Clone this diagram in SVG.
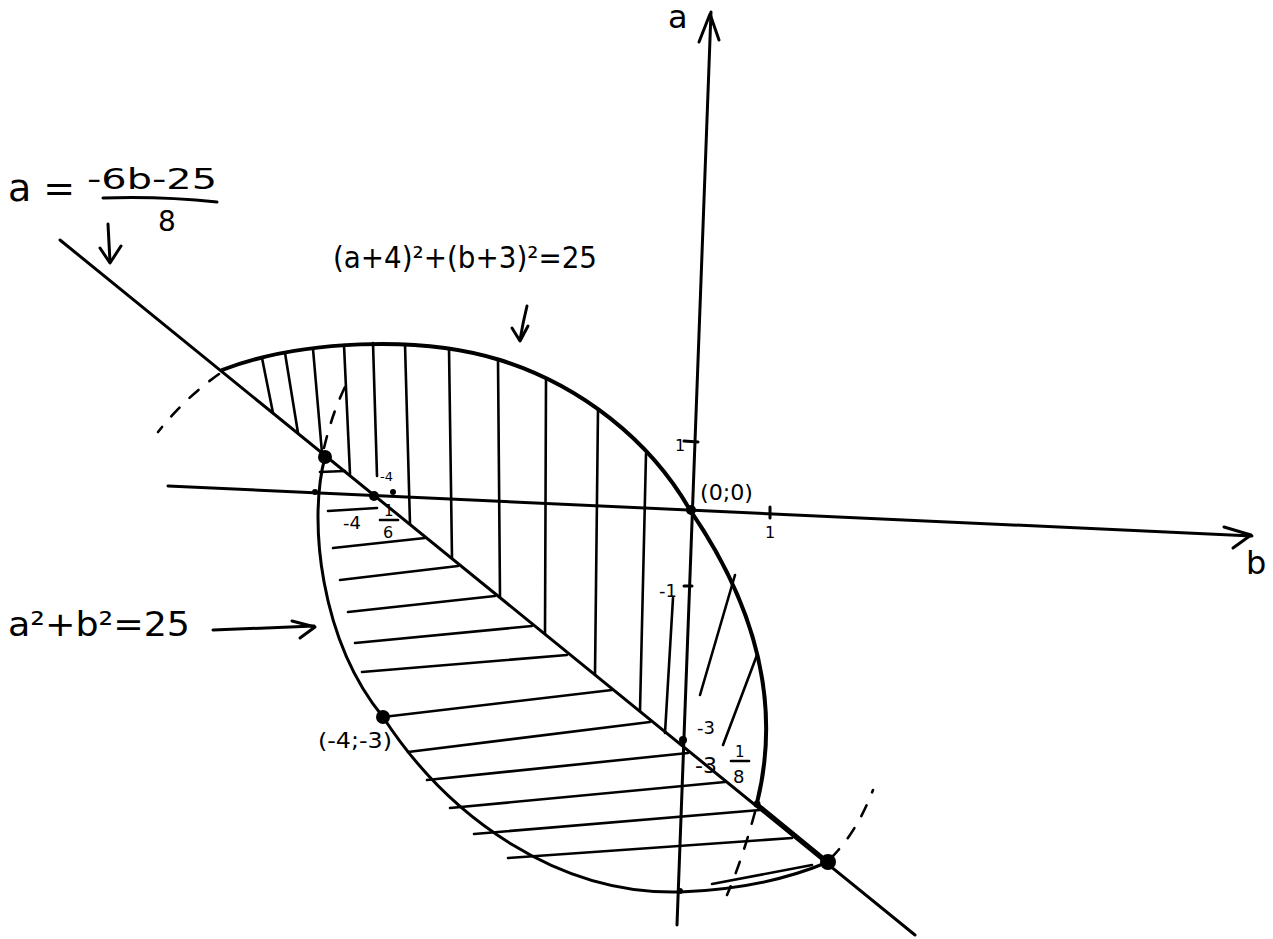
<svg xmlns="http://www.w3.org/2000/svg" width="1273" height="939" viewBox="0 0 1273 939">
<style>
.ln{fill:none;stroke:#000;stroke-width:3;stroke-linecap:round;stroke-linejoin:round}
.th{fill:none;stroke:#000;stroke-width:4;stroke-linecap:round;stroke-linejoin:round}
.ht{fill:none;stroke:#000;stroke-width:2.6;stroke-linecap:round}
.ds{fill:none;stroke:#000;stroke-width:2.6;stroke-dasharray:12 14;stroke-linecap:round}
.t{font-family:"DejaVu Sans","Liberation Sans",sans-serif;fill:#000}
.dot{fill:#000}
</style>
<rect width="1273" height="939" fill="#fff"/>
<g id="axes">
  <path class="ln" d="M168,486 L1252,536"/>
  <path class="ln" d="M1224,527 L1251,535 L1233,548"/>
  <path class="ln" d="M711,12 L677,925"/>
  <path class="ln" d="M699,42 L710,14 L719,40"/>
  <path class="ln" d="M684,441 L698,442"/>
  <path class="ln" d="M770,507 L770,518"/>
  <path class="ln" d="M684,586 L692,586"/>
</g>
<g id="line-diagonal">
  <path class="ln" d="M60,240 L915,935"/>
  <path class="th" d="M757,804 L828,862"/>
</g>
<g id="circle-upper">
  <path class="th" d="M222,370 C300,340 420,335 500,360 C580,385 650,440 690,510 C745,590 785,690 757,803"/>
  <path class="ds" d="M219,374 Q185,398 158,432"/>
  <path class="ds" d="M755,812 Q742,860 727,895"/>
</g>
<g id="circle-lower">
  <path class="ln" d="M325,457 C308,520 320,640 383,717 C450,820 560,895 680,892 C740,890 790,878 828,862"/>
  <path class="ds" d="M324,448 Q333,410 347,383"/>
  <path class="ds" d="M831,858 Q857,832 873,790"/>
</g>
<g id="hatch-vertical">
  <path class="ht" d="M262,358 L273,413"/>
  <path class="ht" d="M285,353 L298,433"/>
  <path class="ht" d="M313,349 L322,453"/>
  <path class="ht" d="M344,345 L350,474"/>
  <path class="ht" d="M373,343 L377,476"/>
  <path class="ht" d="M405,344 L410,524"/>
  <path class="ht" d="M449,348 L452,558"/>
  <path class="ht" d="M498,360 L500,597"/>
  <path class="ht" d="M546,380 L545,634"/>
  <path class="ht" d="M598,409 L595,675"/>
  <path class="ht" d="M646,454 L640,711"/>
  <path class="ht" d="M673,598 L665,733"/>
  <path class="ht" d="M735,575 L700,695"/>
  <path class="ht" d="M757,655 L723,745"/>
</g>
<g id="hatch-horizontal">
  <path class="ht" d="M320,472 L345,471"/>
  <path class="ht" d="M328,511 L377,508"/>
  <path class="ht" d="M333,548 L425,538"/>
  <path class="ht" d="M340,580 L458,566"/>
  <path class="ht" d="M348,612 L495,596"/>
  <path class="ht" d="M355,643 L532,626"/>
  <path class="ht" d="M362,672 L567,655"/>
  <path class="ht" d="M383,717 L612,690"/>
  <path class="ht" d="M408,752 L650,722"/>
  <path class="ht" d="M427,780 L688,753"/>
  <path class="ht" d="M450,808 L725,782"/>
  <path class="ht" d="M474,834 L760,810"/>
  <path class="ht" d="M508,858 L792,838"/>
  <path class="ht" d="M712,884 L812,865"/>
</g>
<g id="points">
  <circle class="dot" cx="325" cy="457" r="7"/>
  <circle class="dot" cx="374" cy="496" r="5"/>
  <circle class="dot" cx="393" cy="492" r="3"/>
  <circle class="dot" cx="315" cy="492" r="3"/>
  <circle class="dot" cx="383" cy="717" r="7"/>
  <circle class="dot" cx="828" cy="862" r="8"/>
  <circle class="dot" cx="691" cy="510" r="5"/>
  <circle class="dot" cx="683" cy="740" r="4"/>
  <circle class="dot" cx="680" cy="891" r="3"/>
  <circle class="dot" cx="757" cy="804" r="3.5"/>
</g>
<g id="label-line">
  <text class="t" x="8" y="201" font-size="38">a =</text>
  <text class="t" x="87" y="189" font-size="28" textLength="130" lengthAdjust="spacingAndGlyphs">-6b-25</text>
  <path class="ln" d="M103,198 Q160,196 217,202"/>
  <text class="t" x="158" y="231" font-size="28">8</text>
  <path class="ln" d="M108,224 L110,262"/>
  <path class="ln" d="M100,248 L110,263 L121,246"/>
</g>
<g id="label-circle-upper">
  <text class="t" x="333" y="268" font-size="30" textLength="264" lengthAdjust="spacingAndGlyphs">(a+4)²+(b+3)²=25</text>
  <path class="ln" d="M527,306 Q523,322 520,340"/>
  <path class="ln" d="M512,328 L520,341 L528,326"/>
</g>
<g id="label-circle-lower">
  <text class="t" x="8" y="636" font-size="34" textLength="182" lengthAdjust="spacingAndGlyphs">a²+b²=25</text>
  <path class="ln" d="M213,630 Q260,628 314,626"/>
  <path class="ln" d="M292,621 L315,627 L300,638"/>
</g>
<g id="labels">
  <text class="t" x="668" y="28" font-size="32">a</text>
  <text class="t" x="1246" y="574" font-size="32">b</text>
  <text class="t" x="700" y="500" font-size="22" textLength="53" lengthAdjust="spacingAndGlyphs">(0;0)</text>
  <text class="t" x="675" y="451" font-size="16">1</text>
  <text class="t" x="765" y="538" font-size="16">1</text>
  <text class="t" x="659" y="597" font-size="18">-1</text>
  <text class="t" x="380" y="481" font-size="13">-4</text>
  <text class="t" x="343" y="529" font-size="18">-4</text>
  <text class="t" x="384" y="516" font-size="15">1</text>
  <path class="ht" d="M380,520 L398,520"/>
  <text class="t" x="383" y="538" font-size="16">6</text>
  <text class="t" x="697" y="734" font-size="18">-3</text>
  <text class="t" x="695" y="773" font-size="22">-3</text>
  <text class="t" x="735" y="757" font-size="15">1</text>
  <path class="ht" d="M731,761 L749,761"/>
  <text class="t" x="733" y="783" font-size="18">8</text>
  <text class="t" x="318" y="748" font-size="22" textLength="74" lengthAdjust="spacingAndGlyphs">(-4;-3)</text>
</g>
</svg>
